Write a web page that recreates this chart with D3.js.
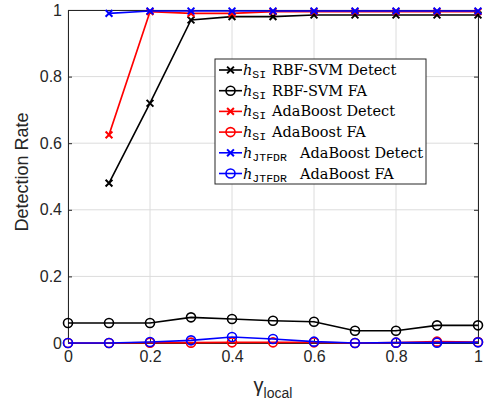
<!DOCTYPE html>
<html><head><meta charset="utf-8">
<script src="https://cdn.jsdelivr.net/npm/d3@7"></script>
<style>body{margin:0;background:#fff}svg{display:block}</style>
</head><body>
<script>
const gamma = [0,0.1,0.2,0.3,0.4,0.5,0.6,0.7,0.8,0.9,1];
const svmDetect = [null,0.48,0.72,0.97,0.98,0.98,0.985,0.985,0.985,0.985,0.985];
const svmFA = [0.06,0.06,0.06,0.077,0.072,0.067,0.064,0.037,0.037,0.053,0.053];
const adaDetect = [null,0.625,0.995,0.99,0.99,0.995,0.995,0.995,0.995,0.995,0.995];
const adaFA = [0,0,0.001,0.001,0.002,0.002,0.002,0,0.001,0.004,0.003];
const jtDetect = [null,0.99,0.997,0.997,0.997,0.997,0.997,0.997,0.997,0.997,0.997];
const jtFA = [0,0,0.003,0.008,0.018,0.012,0.004,0,0.001,0.001,0.002];
const xTicks = [0,0.2,0.4,0.6,0.8,1];
const yTicks = [0,0.2,0.4,0.6,0.8,1];

const series = [
  {sub:"SI", name:"RBF-SVM Detect", vals:svmDetect, color:"#000", marker:"x"},
  {sub:"SI", name:"RBF-SVM FA", vals:svmFA, color:"#000", marker:"o"},
  {sub:"SI", name:"AdaBoost Detect", vals:adaDetect, color:"#f00", marker:"x"},
  {sub:"SI", name:"AdaBoost FA", vals:adaFA, color:"#f00", marker:"o"},
  {sub:"JTFDR", name:"AdaBoost Detect", vals:jtDetect, color:"#00f", marker:"x"},
  {sub:"JTFDR", name:"AdaBoost FA", vals:jtFA, color:"#00f", marker:"o"}
];

const W=484,H=409, L=68, R=478, T=10, B=343;
const svg = d3.select("body").append("svg").attr("width",W).attr("height",H);
const x = d3.scaleLinear().domain([0,1]).range([L,R]);
const y = d3.scaleLinear().domain([0,1]).range([B,T]);

// grid
svg.append("g").selectAll("line").data(xTicks).join("line")
  .attr("x1",d=>x(d)).attr("x2",d=>x(d)).attr("y1",T).attr("y2",B)
  .attr("stroke","#dcdcdc").attr("stroke-width",1);
svg.append("g").selectAll("line").data(yTicks).join("line")
  .attr("y1",d=>y(d)).attr("y2",d=>y(d)).attr("x1",L).attr("x2",R)
  .attr("stroke","#dcdcdc").attr("stroke-width",1);

// axes
svg.append("g").attr("transform",`translate(0,${B})`)
  .call(d3.axisBottom(x).tickValues(xTicks).tickFormat(d3.format("~g")).tickSize(-4).tickPadding(8));
svg.append("g").attr("transform",`translate(${L},0)`)
  .call(d3.axisLeft(y).tickValues(yTicks).tickFormat(d3.format("~g")).tickSize(-4).tickPadding(6));
svg.append("g").attr("transform",`translate(0,${T})`)
  .call(d3.axisTop(x).tickValues(xTicks).tickFormat("").tickSize(-4));
svg.append("g").attr("transform",`translate(${R},0)`)
  .call(d3.axisRight(y).tickValues(yTicks).tickFormat("").tickSize(-4));
svg.selectAll(".domain").attr("stroke","#262626").attr("stroke-width",1);
svg.selectAll(".tick line").attr("stroke","#262626");
svg.selectAll(".tick text").attr("font-family","Liberation Sans, Arial, sans-serif")
  .attr("font-size",16).attr("fill","#262626");

// lines
const line = d3.line().defined(d=>d[1]!=null).x(d=>x(d[0])).y(d=>y(d[1]));
function drawMarker(g, cx, cy, s){
  if(s.marker==="x"){
    const r=3.4;
    g.append("path").attr("d",`M${cx-r},${cy-r}L${cx+r},${cy+r}M${cx-r},${cy+r}L${cx+r},${cy-r}`)
      .attr("stroke",s.color).attr("stroke-width",2).attr("fill","none");
  } else {
    g.append("circle").attr("cx",cx).attr("cy",cy).attr("r",4.5)
      .attr("stroke",s.color).attr("stroke-width",1.6).attr("fill","none");
  }
}
series.forEach(s=>{
  const pts = gamma.map((g,i)=>[g,s.vals[i]]);
  const g = svg.append("g");
  g.append("path").attr("d",line(pts)).attr("fill","none").attr("stroke",s.color).attr("stroke-width",1.6);
  pts.filter(p=>p[1]!=null).forEach(p=>drawMarker(g,x(p[0]),y(p[1]),s));
});

// labels
svg.append("text").attr("transform",`translate(28,172) rotate(-90)`)
  .attr("text-anchor","middle").attr("font-family","Liberation Sans, Arial, sans-serif")
  .attr("font-size",18).attr("fill","#262626").text("Detection Rate");
const xl = svg.append("text").attr("x",(L+R)/2).attr("y",392).attr("text-anchor","middle")
  .attr("font-family","Liberation Sans, Arial, sans-serif").attr("fill","#262626");
xl.append("tspan").attr("font-size",20).text("γ");
xl.append("tspan").attr("font-size",14).attr("dy",6).text("local");

// legend
const lg = svg.append("g");
const lx=215, ly=59, lw=211, lh=125;
lg.append("rect").attr("x",lx).attr("y",ly).attr("width",lw).attr("height",lh)
  .attr("fill","#fff").attr("stroke","#262626").attr("stroke-width",1);
series.forEach((s,i)=>{
  const cy = ly+11+i*20.7;
  lg.append("line").attr("x1",lx+4).attr("x2",lx+27).attr("y1",cy).attr("y2",cy)
    .attr("stroke",s.color).attr("stroke-width",1.6);
  drawMarker(lg, lx+15.5, cy, s);
  const t = lg.append("text").attr("y",cy+5)
    .attr("font-family","DejaVu Serif, serif").attr("font-size",14.5).attr("fill","#000");
  t.append("tspan").attr("x",lx+28).attr("font-style","italic").text("h");
  t.append("tspan").attr("font-family","Liberation Mono, DejaVu Sans Mono, monospace")
    .attr("font-size",11.5).attr("dy",3).text(s.sub);
  t.append("tspan").attr("x", s.sub==="SI" ? lx+57 : lx+85).attr("dy",-3).text(s.name);
});
</script>
</body></html>
